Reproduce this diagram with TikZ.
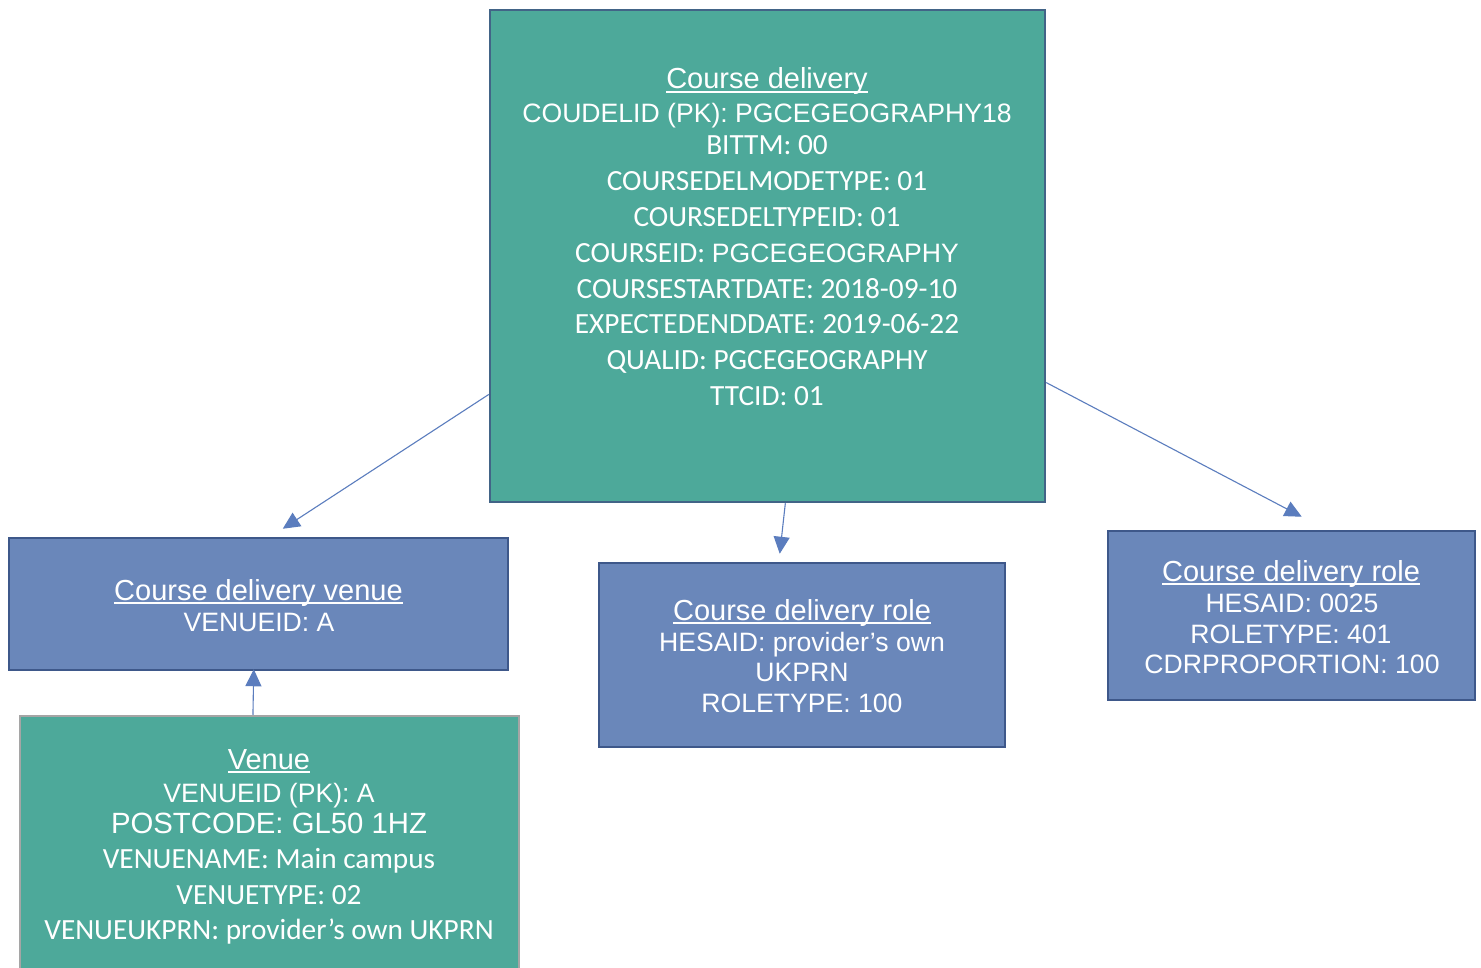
\documentclass[tikz,border=0pt]{standalone}
\usepackage{fontspec}
\setmainfont{Liberation Sans}
\newfontfamily\arialf{Liberation Sans}
\newfontfamily\calif{Carlito}
\usetikzlibrary{arrows.meta,calc}
\definecolor{teal1}{RGB}{77,169,154}
\definecolor{blue1}{RGB}{106,135,186}
\definecolor{tealborder}{RGB}{66,100,135}
\definecolor{blueborder}{RGB}{62,88,138}
\definecolor{greyborder}{RGB}{165,165,165}
\definecolor{arrowc}{RGB}{91,125,190}
\newcommand\ulin[1]{\setbox0\hbox{#1}\rlap{\rule[-4pt]{\wd0}{1.8pt}}\box0}
\newcommand\ttlf{\arialf\fontsize{29}{34}\selectfont}
\newcommand\arlf{\arialf\fontsize{26.6}{32}\selectfont}
\newcommand\calf{\calif\fontsize{29.3}{34}\selectfont}
\begin{document}
\begin{tikzpicture}[x=1pt,y=-1pt,
  tealbox/.style={draw=tealborder,fill=teal1,line width=2.5pt,inner sep=0,minimum width=#1},
  bluebox/.style={draw=blueborder,fill=blue1,line width=2.5pt,inner sep=0,minimum width=#1},
  ln/.style={anchor=base,text=white,inner sep=0},
  conn/.style={draw=arrowc,line width=1.1pt,-{Triangle[length=17pt,width=16pt]}}]
\useasboundingbox (0,0) rectangle (1481,968);
\fill[white] (0,0) rectangle (1481,968);
% boxes
\node[tealbox=555pt,minimum height=492pt] (cd) at (767.5,256) {};
\node[bluebox=499pt,minimum height=132pt] (cdv) at (258.5,604) {};
\node[bluebox=406pt,minimum height=184pt] (mid) at (802,655) {};
\node[bluebox=367pt,minimum height=169pt] (rgt) at (1291.5,615.5) {};
\node[tealbox=499pt,minimum height=268pt,draw=greyborder] (ven) at (269.5,850) {};
% course delivery text
\node[ln] (cd0) at (767,89) {\ttlf\ulin{Course delivery}};
\node[ln] (cd1) at (767,123) {\arlf COUDELID (PK): PGCEGEOGRAPHY18};
\node[ln] (cd2) at (767,155) {\calf BITTM: 00};
\node[ln] (cd3) at (767,191) {\calf COURSEDELMODETYPE: 01};
\node[ln] (cd4) at (767,227) {\calf COURSEDELTYPEID: 01};
\node[ln] (cd5) at (767,263) {\calf COURSEID: \arlf PGCEGEOGRAPHY};
\node[ln] (cd6) at (767,299) {\calf COURSESTARTDATE: 2018-09-10};
\node[ln] (cd7) at (767,334) {\calf EXPECTEDENDDATE: 2019-06-22};
\node[ln] (cd8) at (767,370) {\calf QUALID: PGCEGEOGRAPHY};
\node[ln] (cd9) at (767,406) {\calf TTCID: 01};
% course delivery venue
\node[ln] (cdv0) at (258.5,600) {\ttlf\ulin{Course delivery venue}};
\node[ln] (cdv1) at (259,631) {\arlf VENUEID: A};
% middle role
\node[ln] (mid0) at (802,620) {\ttlf\ulin{Course delivery role}};
\node[ln] (mid1) at (802,651) {\arlf HESAID: provider’s own};
\node[ln] (mid2) at (802,681) {\arlf UKPRN};
\node[ln] (mid3) at (802,712) {\arlf ROLETYPE: 100};
% right role
\node[ln] (rgt0) at (1291,581) {\ttlf\ulin{Course delivery role}};
\node[ln] (rgt1) at (1292,612) {\arlf HESAID: 0025};
\node[ln] (rgt2) at (1291,643) {\arlf ROLETYPE: 401};
\node[ln] (rgt3) at (1292,673) {\arlf CDRPROPORTION: 100};
% venue
\node[ln] (ven0) at (269,769) {\ttlf\ulin{Venue}};
\node[ln] (ven1) at (269,802) {\arlf VENUEID (PK): A};
\node[ln] (ven2) at (269,833) {\arialf\fontsize{29.3}{34}\selectfont POSTCODE: GL50 1HZ};
\node[ln] (ven3) at (269,868) {\calf VENUENAME: Main campus};
\node[ln] (ven4) at (269,904) {\calf VENUETYPE: 02};
\node[ln] (ven5) at (269,939) {\calf VENUEUKPRN: provider’s own UKPRN};
% connector points
\coordinate (s1) at ($(cd.north west)!0.78!(cd.south west)$);
\coordinate (s2) at ($(cd.south west)!0.532!(cd.south east)$);
\coordinate (s3) at ($(cd.north east)!0.756!(cd.south east)$);
\coordinate (s4) at ($(ven.north west)!0.467!(ven.north east)$);
\coordinate (t1) at ($(cdv.north west)+(275,-8)$);
\coordinate (t2) at ($(mid.north west)+(182,-8)$);
\coordinate (t3) at ($(rgt.north west)+(195,-13)$);
\coordinate (t4) at ($(cdv.south west)+(246,-2)$);
\draw[conn] (s1) -- (t1);
\draw[conn] (s2) -- (t2);
\draw[conn] (s3) -- (t3);
\draw[conn] (s4) -- (t4);
\end{tikzpicture}
\end{document}
